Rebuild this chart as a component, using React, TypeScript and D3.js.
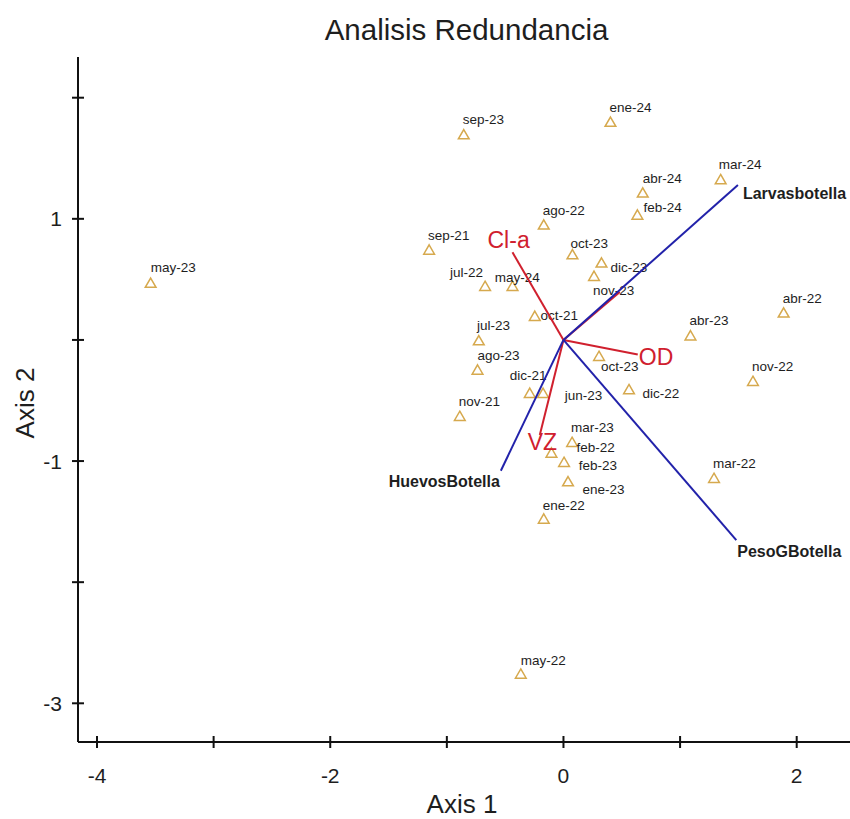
import React from 'react';
import * as d3 from 'd3';

// Sample scores (RDA site scores)
const sampleNames = [
  'may-23', 'sep-23', 'ene-24', 'mar-24', 'abr-24', 'feb-24', 'ago-22', 'sep-21',
  'oct-23', 'dic-23', 'nov-23', 'jul-22', 'may-24', 'oct-21', 'jul-23', 'ago-23',
  'dic-21', 'jun-23', 'oct-23', 'dic-22', 'nov-21', 'mar-23', 'feb-22', 'feb-23',
  'ene-23', 'ene-22', 'abr-23', 'abr-22', 'nov-22', 'mar-22', 'may-22',
];
const axis1Scores = [
  -3.54, -0.855, 0.403, 1.348, 0.68, 0.634, -0.169, -1.152,
  0.077, 0.326, 0.262, -0.672, -0.437, -0.246, -0.726, -0.737,
  -0.289, -0.175, 0.305, 0.562, -0.889, 0.074, -0.103, 0.005,
  0.039, -0.169, 1.089, 1.888, 1.625, 1.291, -0.366,
];
const axis2Scores = [
  0.46, 1.686, 1.789, 1.315, 1.205, 1.023, 0.941, 0.734,
  0.695, 0.627, 0.517, 0.434, 0.434, 0.187, -0.015, -0.257,
  -0.449, -0.449, -0.144, -0.419, -0.639, -0.854, -0.942, -1.019,
  -1.179, -1.487, 0.026, 0.214, -0.35, -1.151, -2.767,
];

// Species (response) vectors
const speciesNames = ['Larvasbotella', 'PesoGBotella', 'HuevosBotella'];
const speciesAxis1 = [1.496, 1.482, -0.537];
const speciesAxis2 = [1.279, -1.652, -1.08];

// Environmental vectors
const envNames = ['Cl-a', 'OD', 'VZ', ''];
const envAxis1 = [-0.437, 0.637, -0.203, 0.483];
const envAxis2 = [0.723, -0.121, -0.785, 0.396];

// Axis ticks
const xTicks = [-4, -3, -2, -1, 0, 1, 2];
const xTickLabels = ['-4', '', '-2', '', '0', '', '2'];
const yTicks = [2, 1, 0, -1, -2, -3];
const yTickLabels = ['', '1', '', '-1', '', '-3'];

// Layout: label offsets relative to each sample marker [dx, dy, anchorEnd]
const labelLayout: [number, number, number][] = [
  [0, -12, 0], [-1, -11.4, 0], [-1, -11, 0], [-2, -12, 0], [0, -11, 0], [6, -4, 0], [-1, -11, 0], [-1, -11, 0],
  [-2, -8, 0], [9, 7.7, 0], [-1, 17.7, 0], [-2, -10.6, 1], [-17.7, -5.6, 0], [5.7, 2.7, 0], [-1.7, -11.7, 0], [0, -11, 0],
  [-20, -14.3, 0], [21.7, 5.7, 0], [2, 13.7, 0], [13.4, 7.6, 0], [-1, -11.6, 0], [-1, -11.6, 0], [25, -2.3, 0], [14.7, 6.7, 0],
  [14.4, 11.6, 0], [-1, -10, 0], [-1, -11.7, 0], [-1, -10.7, 0], [-1, -11.3, 0], [-1, -11, 0], [0, -10, 0],
];
const speciesLabelLayout: [number, number, number][] = [[5, 14, 0], [1, 17, 0], [-1, 16, 1]];
const envLabelLayout: [number, number][] = [[-25, -4], [1, 10.5], [-12, 15], [0, 0]];

const FONT = "'Liberation Sans', Arial, Helvetica, sans-serif";
const BLUE = '#2222aa';
const RED = '#d0202e';
const GOLD = '#d6a94e';
const TEXT = '#1e1e1e';

export default function App() {
  const width = 850;
  const height = 819;
  const x = d3.scaleLinear().domain([-4, 2]).range([97, 796.7]);
  const y = d3.scaleLinear().domain([-3, 2]).range([703.3, 97.7]);
  const axisLeft = 78;
  const axisBottom = 742;
  const axisTop = 57;
  const axisRight = 850;
  const tri = d3.symbol(d3.symbolTriangle, 50)() as string;
  const ox = x(0);
  const oy = y(0);

  return (
    <svg width={width} height={height} style={{ position: 'absolute', left: 0, top: 0, background: '#fff' }}
      fontFamily={FONT}>
      <rect x={0} y={0} width={width} height={height} fill="#fff" />
      {/* Title */}
      <text x={466.5} y={40} textAnchor="middle" fontSize={29.5} fill={TEXT}>Analisis Redundancia</text>

      {/* Axes */}
      <line x1={axisLeft} x2={axisRight} y1={axisBottom} y2={axisBottom} stroke="#111" strokeWidth={2} />
      <line x1={axisLeft} x2={axisLeft} y1={axisTop} y2={axisBottom} stroke="#111" strokeWidth={2} />
      {xTicks.map((t, i) => (
        <g key={'xt' + i}>
          <line x1={x(t)} x2={x(t)} y1={axisBottom - 6} y2={axisBottom + 6} stroke="#111" strokeWidth={2} />
          {xTickLabels[i] && (
            <text x={x(t)} y={782.5} textAnchor="middle" fontSize={21} fill={TEXT}>{xTickLabels[i]}</text>
          )}
        </g>
      ))}
      {yTicks.map((t, i) => (
        <g key={'yt' + i}>
          <line x1={axisLeft - 6} x2={axisLeft + 6} y1={y(t)} y2={y(t)} stroke="#111" strokeWidth={2} />
          {yTickLabels[i] && (
            <text x={62} y={y(t) + 7.5} textAnchor="end" fontSize={21} fill={TEXT}>{yTickLabels[i]}</text>
          )}
        </g>
      ))}
      <text x={462} y={813} textAnchor="middle" fontSize={26} fill={TEXT}>Axis 1</text>
      <text transform={`translate(34,403) rotate(-90)`} textAnchor="middle" fontSize={26} fill={TEXT}>Axis 2</text>

      {/* Samples */}
      {sampleNames.map((name, i) => {
        const px = x(axis1Scores[i]);
        const py = y(axis2Scores[i]);
        const [dx, dy, end] = labelLayout[i];
        return (
          <g key={'s' + i}>
            <path d={tri} transform={`translate(${px},${py})`} fill="none" stroke={GOLD} strokeWidth={1.5} />
            <text x={px + dx} y={py + dy} textAnchor={end ? 'end' : 'start'} fontSize={13.5} fill={TEXT}>{name}</text>
          </g>
        );
      })}

      {/* Environmental vectors */}
      {envNames.map((name, i) => {
        const tx = x(envAxis1[i]);
        const ty = y(envAxis2[i]);
        const [dx, dy] = envLabelLayout[i];
        return (
          <g key={'e' + i}>
            <line x1={ox} y1={oy} x2={tx} y2={ty} stroke={RED} strokeWidth={2} />
            {name && <text x={tx + dx} y={ty + dy} fontSize={23} fill={RED}>{name}</text>}
          </g>
        );
      })}

      {/* Species vectors */}
      {speciesNames.map((name, i) => {
        const tx = x(speciesAxis1[i]);
        const ty = y(speciesAxis2[i]);
        const [dx, dy, end] = speciesLabelLayout[i];
        return (
          <g key={'sp' + i}>
            <line x1={ox} y1={oy} x2={tx} y2={ty} stroke={BLUE} strokeWidth={2} />
            <text x={tx + dx} y={ty + dy} textAnchor={end ? 'end' : 'start'} fontSize={16} fontWeight="bold" fill={TEXT}>{name}</text>
          </g>
        );
      })}
    </svg>
  );
}
